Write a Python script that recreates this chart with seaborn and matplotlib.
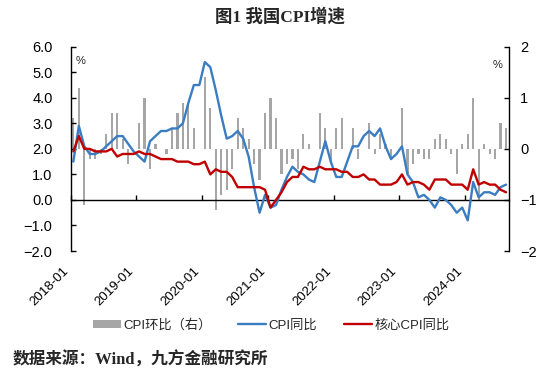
import numpy as np
import seaborn as sns
import matplotlib.pyplot as plt
from matplotlib.lines import Line2D
from matplotlib.patches import Patch
from matplotlib.ticker import FuncFormatter

# --- DATA: monthly, 2018-01 .. 2024-08 ---
year_labels = ["2018-01", "2019-01", "2020-01", "2021-01", "2022-01", "2023-01", "2024-01"]

cpi_yoy = [
    1.5, 2.9, 2.1, 1.8, 1.8, 1.9, 2.1, 2.3, 2.5, 2.5, 2.2, 1.9,
    1.7, 1.5, 2.3, 2.5, 2.7, 2.7, 2.8, 2.8, 3.0, 3.8, 4.5, 4.5,
    5.4, 5.2, 4.3, 3.3, 2.4, 2.5, 2.7, 2.4, 1.7, 0.5, -0.5, 0.2,
    -0.3, -0.2, 0.4, 0.9, 1.3, 1.1, 1.0, 0.8, 0.7, 1.5, 2.3, 1.5,
    0.9, 0.9, 1.5, 2.1, 2.1, 2.5, 2.7, 2.5, 2.8, 2.1, 1.6, 1.8,
    2.1, 1.0, 0.7, 0.1, 0.2, 0.0, -0.3, 0.1, 0.0, -0.2, -0.5, -0.3,
    -0.8, 0.7, 0.1, 0.3, 0.3, 0.2, 0.5, 0.6,
]
core_yoy = [
    1.9, 2.5, 2.0, 2.0, 1.9, 1.9, 1.9, 2.0, 1.7, 1.8, 1.8, 1.8,
    1.9, 1.8, 1.8, 1.7, 1.6, 1.6, 1.6, 1.5, 1.5, 1.5, 1.4, 1.4,
    1.5, 1.0, 1.2, 1.1, 1.1, 0.9, 0.5, 0.5, 0.5, 0.5, 0.5, 0.4,
    -0.3, 0.0, 0.3, 0.7, 0.9, 0.9, 1.3, 1.2, 1.2, 1.3, 1.2, 1.2,
    1.2, 1.1, 1.1, 0.9, 0.9, 1.0, 0.8, 0.8, 0.6, 0.6, 0.6, 0.7,
    1.0, 0.6, 0.7, 0.7, 0.6, 0.4, 0.8, 0.8, 0.8, 0.6, 0.6, 0.6,
    0.4, 1.2, 0.6, 0.7, 0.6, 0.6, 0.4, 0.3,
]
cpi_mom = [
    0.6, 1.2, -1.1, -0.2, -0.2, -0.1, 0.3, 0.7, 0.7, 0.2, -0.3, 0.0,
    0.5, 1.0, -0.4, 0.1, 0.0, -0.1, 0.4, 0.7, 0.9, 0.9, 0.4, 0.0,
    1.4, 0.8, -1.2, -0.9, -0.8, -0.4, 0.6, 0.4, 0.2, -0.3, -0.6, 0.7,
    1.0, 0.6, -0.5, -0.3, -0.2, -0.4, 0.3, 0.1, 0.0, 0.7, 0.4, -0.3,
    0.4, 0.6, 0.0, 0.4, -0.2, 0.0, 0.5, -0.1, 0.3, 0.1, -0.2, 0.0,
    0.8, -0.5, -0.3, -0.1, -0.2, -0.2, 0.2, 0.3, 0.2, -0.1, -0.5, 0.1,
    0.3, 1.0, -1.0, 0.1, -0.1, -0.2, 0.5, 0.4,
]

months = np.arange(len(cpi_yoy))
year_ticks = np.arange(len(year_labels)) * 12 - 0.5

BLUE = "#3a7dc2"
RED = "#c00000"
GREY = "#a6a6a6"

sns.set_theme(style="ticks")
plt.rcParams['font.family'] = ['Liberation Sans', 'Noto Sans CJK SC', 'DejaVu Sans']

fig = plt.figure(figsize=(5.56, 3.82), dpi=100)
ax = fig.add_axes([0.127, 0.3429, 0.7876, 0.5348])
ax2 = ax.twinx()
ax.set_zorder(ax2.get_zorder() + 1)
ax.patch.set_visible(False)

# bars on the right axis
sns.barplot(x=months, y=cpi_mom, native_scale=True, orient="x", width=0.4,
            color=GREY, saturation=1, errorbar=None, linewidth=0,
            antialiased=False, ax=ax2)

# lines on the left axis
sns.lineplot(x=months, y=cpi_yoy, color=BLUE, linewidth=1.7, ax=ax)
sns.lineplot(x=months, y=core_yoy, color=RED, linewidth=1.7, ax=ax)

ax.set_xlim(-0.5, 79.45)
ax.set_ylim(-2, 6)
ax2.set_ylim(-2, 2)
ax.set_yticks(np.arange(-2, 7, 1))
ax2.set_yticks(np.arange(-2, 3, 1))
ax.yaxis.set_major_formatter(FuncFormatter(lambda v, p: f"{v:.1f}".replace("-", "\u2212")))
ax2.yaxis.set_major_formatter(FuncFormatter(lambda v, p: f"{v:.0f}".replace("-", "\u2212")))

for s in ["top", "right", "bottom"]:
    ax.spines[s].set_visible(False)
for s in ["top", "left", "bottom"]:
    ax2.spines[s].set_visible(False)
ax.spines["left"].set_color("black")
ax2.spines["right"].set_color("black")
ax.spines["left"].set_linewidth(1)
ax2.spines["right"].set_linewidth(1)

ax.tick_params(axis="y", direction="in", length=3.5, width=1, pad=13, labelsize=10.5, colors="black")
ax2.tick_params(axis="y", direction="in", length=3.5, width=1, pad=8.5, labelsize=10.5, colors="black")

# date labels along the bottom
ax.set_xticks(year_ticks)
ax.set_xticklabels(year_labels, rotation=45, ha="right", fontsize=9.5)
ax.tick_params(axis="x", length=0, pad=10, colors="black")
ax.set_xlabel("")
ax.set_ylabel("")
ax2.set_ylabel("")

# zero line with inward ticks
zero_axis = ax.secondary_xaxis(0.25)
zero_axis.set_xticks(year_ticks)
zero_axis.tick_params(direction="in", length=3.5, width=1, labelbottom=False, labeltop=False, colors="black")
for sp in zero_axis.spines.values():
    sp.set_color("black")
    sp.set_linewidth(1)

ax.text(0.023, 0.932, "%", transform=ax.transAxes, ha="center", va="center", fontsize=8)
ax.text(0.976, 0.910, "%", transform=ax.transAxes, ha="center", va="center", fontsize=8)

fig.text(0.504, 0.955, "图1 我国CPI增速", ha="center", va="center", fontsize=12.5,
         fontweight="bold", family=['Liberation Serif', 'Noto Sans CJK SC'])

handles = [
    Patch(facecolor=GREY, edgecolor="none"),
    Line2D([], [], color=BLUE, linewidth=1.7),
    Line2D([], [], color=RED, linewidth=1.7),
]
labels = ["CPI环比（右）", "CPI同比", "核心CPI同比"]
fig.legend(handles, labels, loc="center", bbox_to_anchor=(0.488, 0.149), ncol=3,
           frameon=False, fontsize=9.5, handlelength=2.1, handleheight=0.5,
           handletextpad=0.2, columnspacing=2.0)

fig.text(0.023, 0.058, "数据来源：Wind，九方金融研究所", ha="left", va="center", fontsize=12,
         fontweight="bold", family=['Liberation Serif', 'Noto Sans CJK SC'])

fig.savefig("out.png", dpi=100)
